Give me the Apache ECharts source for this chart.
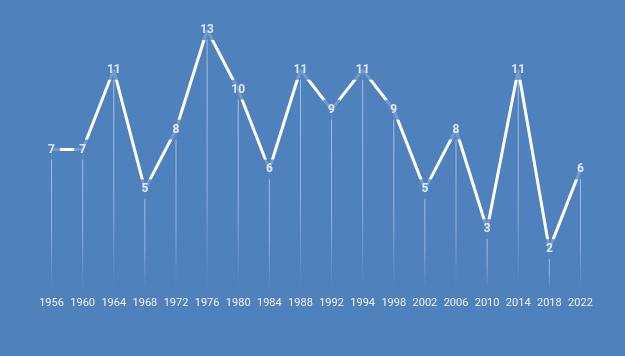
<!DOCTYPE html>
<html>
<head>
<meta charset="utf-8">
<script src="https://cdn.jsdelivr.net/npm/echarts@6/dist/echarts.min.js"></script>
<style>
html,body{margin:0;padding:0;background:#4F81BD;}
#c{width:625px;height:356px;}
</style>
</head>
<body>
<div id="c"></div>
<script>
const years = ['1956','1960','1964','1968','1972','1976','1980','1984','1988','1992','1994','1998','2002','2006','2010','2014','2018','2022'];
const values = [7,7,11,5,8,13,10,6,11,9,11,9,5,8,3,11,2,6];

const chart = echarts.init(document.getElementById('c'));
chart.setOption({
  backgroundColor: '#4F81BD',
  animation: false,
  grid: {left: 36, right: 29, top: 10, bottom: 67},
  xAxis: {
    type: 'category',
    data: years,
    boundaryGap: true,
    axisLine: {show: false},
    axisTick: {show: false},
    axisLabel: {color: '#f2f2f2', fontFamily: 'Roboto', fontSize: 11, margin: 9, interval: 0}
  },
  yAxis: {type: 'value', min: 0, max: 14, show: false, splitLine: {show: false}},
  series: [
    {
      type: 'bar',
      data: values,
      barWidth: 1,
      z: 1,
      itemStyle: {
        color: new echarts.graphic.LinearGradient(0, 0, 0, 1, [
          {offset: 0, color: 'rgba(255,255,255,0.5)'},
          {offset: 0.6, color: 'rgba(255,255,255,0.4)'},
          {offset: 1, color: 'rgba(255,255,255,0)'}
        ])
      }
    },
    {
      type: 'line',
      data: values,
      z: 3,
      symbol: 'none',
      lineStyle: {color: '#ffffff', width: 3}
    },
    {
      type: 'scatter',
      data: values,
      z: 5,
      symbol: 'rect',
      symbolSize: 2,
      itemStyle: {color: 'rgba(0,0,0,0)'},
      label: {
        show: true,
        position: 'inside',
        color: '#ffffff',
        fontWeight: 'bold',
        fontFamily: 'Roboto',
        fontSize: 12,
        backgroundColor: '#4F81BD',
        padding: [4, 5],
        formatter: function (p) { return String(p.value); }
      }
    }
  ]
});
</script>
</body>
</html>
